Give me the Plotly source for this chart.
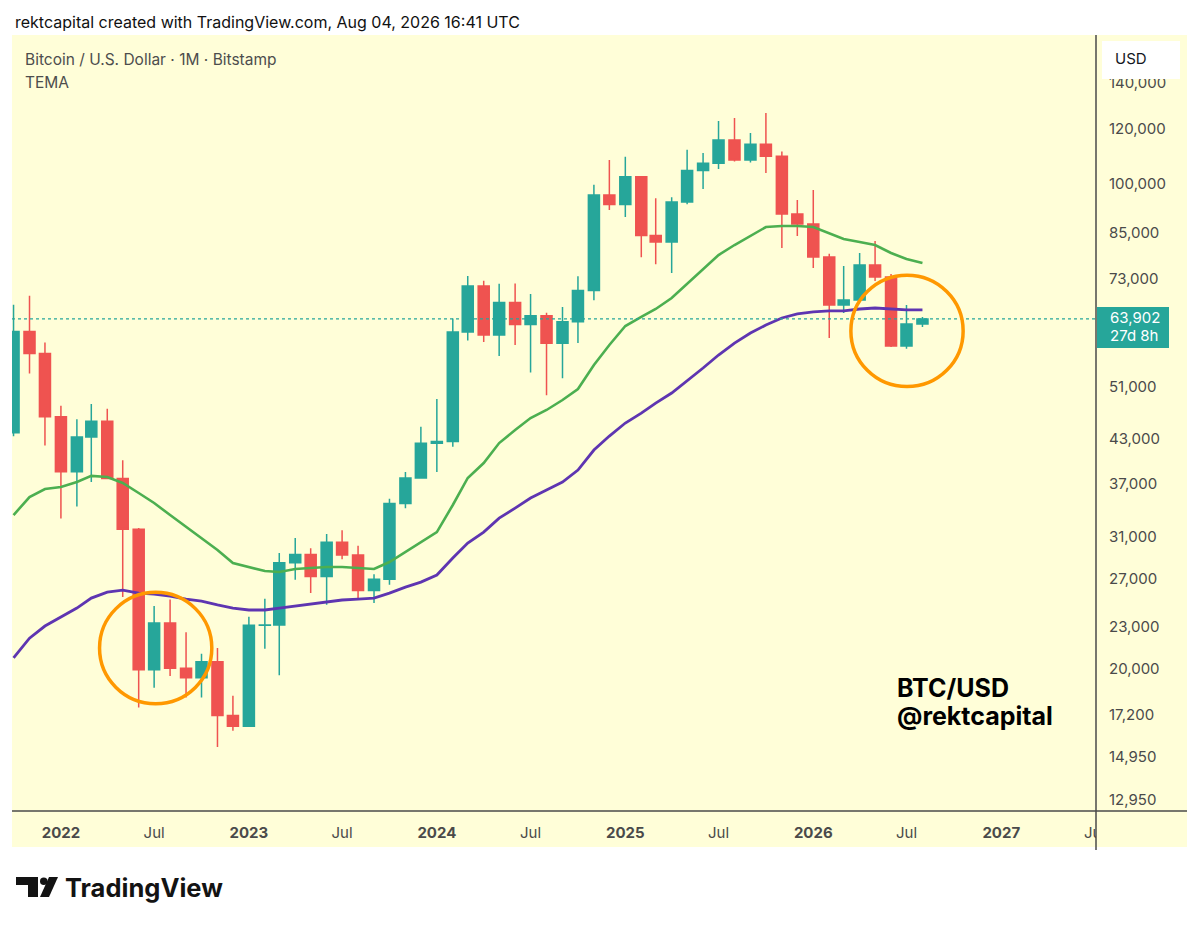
import math
import pandas as pd
import plotly.graph_objects as go

# monthly BTC/USD candles (Bitstamp), Oct 2021 -> Aug 2026
months = pd.date_range("2021-10-01", "2026-08-01", freq="MS")

open_ = [43800, 61300, 57000,
         46200, 38500, 43200, 45500, 37650, 31800, 19950, 23300, 20050, 19430, 20500, 17150,
         16550, 23130, 23150, 28450, 29250, 27200, 30450, 29200, 25950, 26950, 34650, 37700,
         42300, 42550, 61200, 71300, 60600, 67500, 62750, 64600, 58950, 63300, 70250, 96400,
         93400, 102400, 84300, 82500, 94200, 104600, 107100, 115700, 108250, 114050, 109600, 90500,
         87560, 78470, 66900, 68050, 76410, 73430, 58420, 62840]
high = [67000, 69000, 59100,
        47900, 45800, 48200, 47450, 40000, 31950, 24650, 25200, 22600, 21050, 21450, 18300,
        23800, 25250, 29400, 30900, 29850, 31300, 31700, 30100, 27400, 35200, 38450, 44700,
        49000, 64000, 73700, 72500, 71800, 71900, 69400, 65200, 66500, 73600, 99700, 108300,
        109400, 102700, 95400, 95700, 112000, 110800, 123200, 124500, 118400, 126500, 111400, 94800,
        98000, 79300, 76170, 79520, 82760, 74200, 66900, 64330]
low = [43300, 53300, 42000,
       32950, 34300, 37200, 37580, 25400, 17600, 18800, 19550, 18200, 18200, 15450, 16300,
       16500, 21400, 19600, 26900, 25750, 24750, 28800, 25300, 24900, 26450, 34100, 37600,
       38450, 41800, 59500, 59200, 56500, 58600, 53500, 49600, 52500, 59000, 68000, 91700,
       89600, 78400, 76600, 74400, 93500, 98300, 105100, 107700, 107400, 103700, 80850, 84140,
       75660, 59980, 65160, 67800, 72450, 58200, 57900, 62220]
close = [61300, 57000, 46200,
         38500, 43200, 45500, 37650, 31800, 19950, 23300, 20050, 19430, 20500, 17150, 16550,
         23130, 23150, 28450, 29250, 27200, 30450, 29200, 25950, 26950, 34650, 37700, 42300,
         42550, 61200, 71300, 60600, 67500, 62750, 64600, 58950, 63300, 70250, 96400, 93400,
         102400, 84300, 82500, 94200, 104600, 107100, 115700, 108250, 114050, 109600, 90500, 87560,
         78470, 66900, 68050, 76410, 73430, 58420, 62840, 63902]

# the two TEMA lines
tema_green = [33340, 35390, 36340,
              36590, 37200, 37960, 37830, 37080, 35870, 34700, 33340, 32040, 30890, 29690, 28430,
              28060, 27690, 27600, 27880, 27970, 28060, 28060, 27970, 27880, 28530, 29490, 30490,
              31510, 34470, 37700, 39620, 42330, 44200, 46000, 47240, 48830, 50640, 54840, 58610,
              62420, 64320, 66040, 68480, 71730, 75410, 78990, 81660, 84140, 86680, 86980, 86980,
              86680, 84980, 83320, 82480, 81660, 79520, 77950, 76930]
tema_purple = [20750, 22160, 23070,
               23770, 24490, 25310, 25820, 25990, 25730, 25650, 25480, 25230, 25060, 24740, 24490,
               24330, 24330, 24490, 24650, 24810, 24980, 25150, 25230, 25310, 25730, 26250, 26690,
               27320, 28910, 30380, 31510, 33000, 34120, 35270, 36230, 37200, 38710, 41360, 43330,
               45240, 46760, 48340, 49980, 52000, 54300, 56690, 58990, 60980, 62620, 64100, 64960,
               65400, 65610, 65610, 66040, 66260, 66040, 65830, 65830]

y_ticks = [12950, 14950, 17200, 20000, 23000, 27000, 31000, 37000, 43000, 51000,
           73000, 85000, 100000, 120000, 140000]
x_ticks = pd.date_range("2022-01-01", "2027-07-01", freq="6MS")
x_tick_text = [f"<b>{d.year}</b>" if d.month == 1 else "Jul" for d in x_ticks]

UP = "#26a69a"
DOWN = "#ef5350"
BG = "#fffed8"
FONT = "Inter, Roboto, sans-serif"


# pixel -> paper helpers (plot area is x 12..1096, y 35..811)
def px(X):
    return (X - 12) / 1084


def py(Y):
    return (811 - Y) / 776


fig = go.Figure()

fig.add_trace(go.Candlestick(
    x=months, open=open_, high=high, low=low, close=close,
    increasing=dict(line=dict(color=UP, width=1.5), fillcolor=UP),
    decreasing=dict(line=dict(color=DOWN, width=1.5), fillcolor=DOWN),
    whiskerwidth=0, showlegend=False, hoverinfo="skip",
))
fig.add_trace(go.Scatter(x=months, y=tema_green, mode="lines",
                         line=dict(color="#4caf50", width=2.6), showlegend=False))
fig.add_trace(go.Scatter(x=months, y=tema_purple, mode="lines",
                         line=dict(color="#5e35b1", width=2.8), showlegend=False))

shapes = [
    # yellow chart background incl. axes strips
    dict(type="rect", xref="paper", yref="paper", x0=px(12), x1=px(1187), y0=py(847), y1=py(35),
         fillcolor=BG, line=dict(width=0), layer="below"),
    # current price dotted line
    dict(type="line", xref="paper", yref="y", x0=0, x1=1, y0=close[-1], y1=close[-1],
         line=dict(color=UP, width=1.2, dash="dot")),
    # orange highlight circles
    dict(type="circle", xref="x", yref="y", x0="2022-03-17", x1="2022-10-21", y0=17830, y1=25800,
         line=dict(color="#ff9800", width=3.5)),
    dict(type="circle", xref="x", yref="y", x0="2026-03-15", x1="2026-10-19", y0=51050, y1=73860,
         line=dict(color="#ff9800", width=3.5)),
    # hide the clipped right half of last x label
    dict(type="rect", xref="paper", yref="paper", x0=1.0, x1=px(1187), y0=py(846), y1=py(812),
         fillcolor=BG, line=dict(width=0), layer="above"),
    # axis border lines
    dict(type="line", xref="paper", yref="paper", x0=1.0, x1=1.0, y0=py(850), y1=py(35),
         line=dict(color="#4a4a4a", width=1.5), layer="above"),
    dict(type="line", xref="paper", yref="paper", x0=px(12), x1=px(1187), y0=0, y1=0,
         line=dict(color="#4a4a4a", width=1.5), layer="above"),
    # USD box (covers the top of the 140,000 label like the original)
    dict(type="rect", xref="paper", yref="paper", x0=px(1102), x1=px(1180), y0=py(79), y1=py(41),
         fillcolor="white", line=dict(width=0), layer="above"),
    # last price box
    dict(type="rect", xref="paper", yref="paper", x0=px(1097), x1=px(1169), y0=py(348), y1=py(307),
         fillcolor=UP, line=dict(width=0), layer="above"),
    # TradingView logo glyph
    dict(type="rect", xref="paper", yref="paper", x0=px(16), x1=px(38), y0=py(885), y1=py(877),
         fillcolor="#131313", line=dict(width=0), layer="above"),
    dict(type="rect", xref="paper", yref="paper", x0=px(28), x1=px(38), y0=py(897), y1=py(877),
         fillcolor="#131313", line=dict(width=0), layer="above"),
    dict(type="circle", xref="paper", yref="paper", x0=px(40), x1=px(47.5), y0=py(885), y1=py(877.5),
         fillcolor="#131313", line=dict(width=0), layer="above"),
    dict(type="path", xref="paper", yref="paper",
         path=f"M {px(49)},{py(877)} L {px(58)},{py(877)} L {px(49)},{py(897)} L {px(40)},{py(897)} Z",
         fillcolor="#131313", line=dict(width=0), layer="above"),
]

annotations = [
    dict(text="rektcapital created with TradingView.com, Aug 04, 2026 16:41 UTC",
         x=px(13), y=py(22), font=dict(size=16, color="#111111")),
    dict(text="Bitcoin / U.S. Dollar · 1M · Bitstamp", x=px(23), y=py(59),
         font=dict(size=15.5, color="#4d4d4d")),
    dict(text="TEMA", x=px(23), y=py(82), font=dict(size=15.5, color="#4d4d4d")),
    dict(text="<b>BTC/USD</b>", x=px(895), y=py(688), font=dict(size=25, color="#000000")),
    dict(text="<b>@rektcapital</b>", x=px(895), y=py(716), font=dict(size=25, color="#000000")),
    dict(text="USD", x=px(1113), y=py(58), font=dict(size=15, color="#131722")),
    dict(text=f"{close[-1]:,}", x=px(1108), y=py(317), font=dict(size=15, color="white")),
    dict(text="27d 8h", x=px(1108), y=py(336), font=dict(size=15, color="white")),
    dict(text="<b>TradingView</b>", x=px(63), y=py(887), font=dict(size=25.5, color="#131313")),
]
for a in annotations:
    a.update(xref="paper", yref="paper", xanchor="left", yanchor="middle", showarrow=False)
    a["font"]["family"] = FONT

fig.update_layout(
    width=1199, height=927,
    margin=dict(l=12, r=103, t=35, b=116),
    paper_bgcolor="white", plot_bgcolor=BG,
    font=dict(family=FONT),
    shapes=shapes, annotations=annotations,
    showlegend=False,
    xaxis=dict(
        type="date", range=["2021-09-28", "2027-07-04"],
        rangeslider=dict(visible=False),
        tickvals=x_ticks, ticktext=x_tick_text,
        tickfont=dict(size=15, color="#4a4a4a"),
        showgrid=False, zeroline=False, showline=False, ticks="",
        ticklabelstandoff=11,
    ),
    yaxis=dict(
        type="log", side="right",
        range=[math.log10(12490), math.log10(163900)],
        tickvals=y_ticks, ticktext=[f"{v:,}" for v in y_ticks],
        tickfont=dict(size=15, color="#4a4a4a"),
        showgrid=False, zeroline=False, showline=False, ticks="",
        ticklabelstandoff=12,
    ),
    boxgap=0.1, boxgroupgap=0.15,
)

# page body has a default 8px margin; drop it so the figure sits at the window corner
fig.write_html("out.html", config={"displayModeBar": False},
               post_script="document.body.style.margin='0';")
